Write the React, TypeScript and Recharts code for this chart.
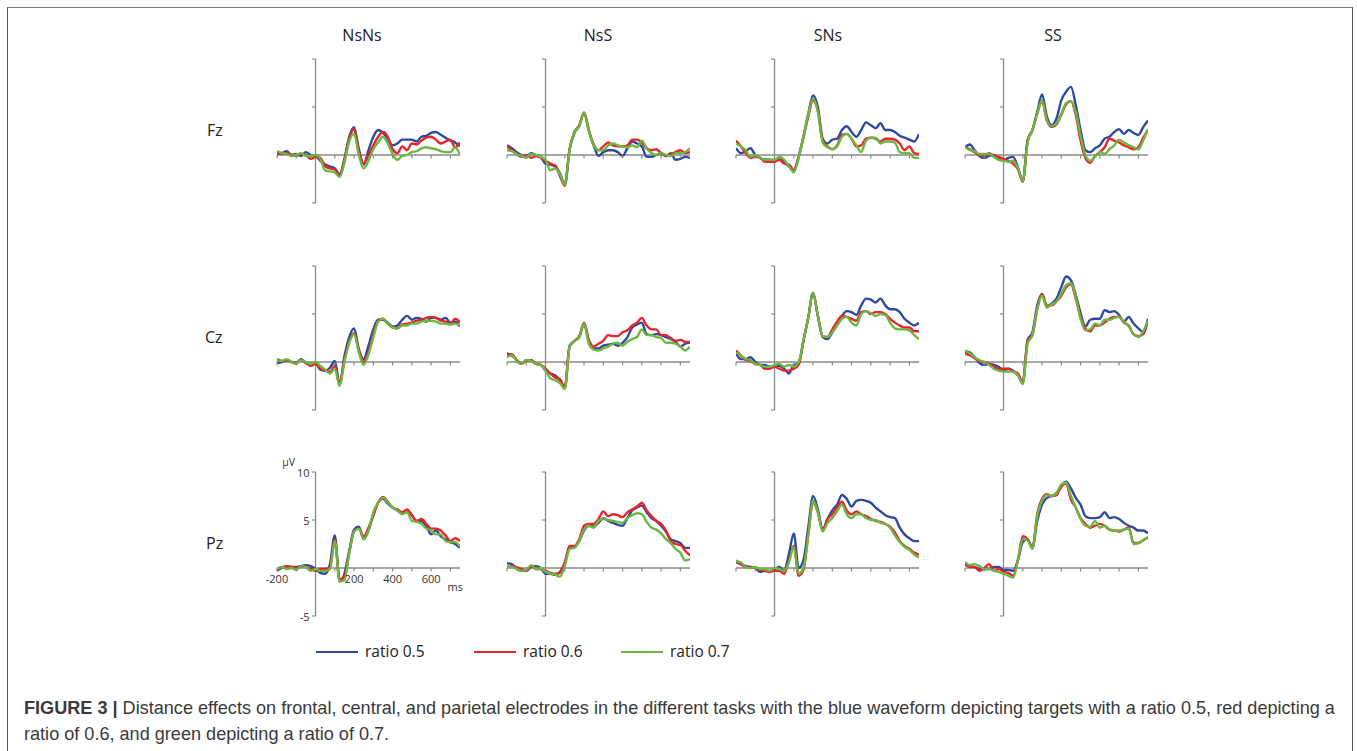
import { Line, LineChart, ReferenceDot, ReferenceLine, XAxis, YAxis } from "recharts";

// time axis (ms), one sample every 25 ms
const TIMES = [
  -200, -175, -150, -125, -100, -75, -50, -25, 0, 25, 50, 75, 100, 125, 150, 175, 200, 225, 250, 275,
  300, 325, 350, 375, 400, 425, 450, 475, 500, 525, 550, 575, 600, 625, 650, 675, 700, 725, 750,
];

const TASKS = ["NsNs", "NsS", "SNs", "SS"];
const ELECTRODES = ["Fz", "Cz", "Pz"];
const X_TICKS = [-200, -100, 100, 200, 300, 400, 500, 600, 700];
const Y_TICKS = [-5, 5, 10];
const X_TICK_LABELS = [-200, 200, 400, 600];
const Y_TICK_LABELS = [10, 5, -5];

// Fz
const fzNsNsBlue = [0.1, 0.2, 0.4, 0.0, 0.1, -0.1, 0.3, 0.0, -0.1, -0.6, -1.0, -1.2, -1.4, -2.0, -0.4, 1.9, 2.9, 0.6, -1.0, 0.5, 1.9, 2.6, 2.3, 1.7, 1.0, 1.2, 1.6, 1.6, 1.6, 1.4, 1.9, 2.0, 2.3, 2.4, 2.1, 1.8, 1.5, 1.3, 0.9];
const fzNsNsRed = [0.3, 0.1, 0.2, 0.0, -0.1, 0.1, 0.0, -0.4, -0.2, -0.3, -1.2, -1.4, -1.5, -2.2, -0.6, 1.7, 2.7, 0.4, -0.9, 0.0, 1.0, 1.9, 2.4, 1.9, 0.6, 0.2, 0.9, 0.5, 1.2, 1.1, 1.5, 1.8, 1.9, 1.6, 1.2, 1.4, 1.6, 0.8, 1.3];
const fzNsNsGreen = [0.4, 0.2, 0.1, -0.1, 0.0, 0.2, -0.1, -0.1, 0.0, -0.4, -1.6, -1.7, -1.8, -2.3, -0.8, 1.4, 2.2, 0.0, -1.4, -0.6, 0.6, 1.3, 1.9, 1.2, 0.1, -0.5, -0.1, 0.0, 0.3, 0.4, 0.7, 0.8, 0.7, 0.6, 0.4, 0.3, 0.3, 0.8, 0.0];

const fzNsSBlue = [1.0, 0.7, 0.3, 0.0, -0.2, 0.2, 0.0, -0.2, -0.9, -1.0, -1.2, -1.9, -3.1, 0.6, 2.3, 3.0, 4.4, 2.5, 1.0, -0.1, 0.3, 0.5, 0.5, 0.3, -0.1, 0.7, 1.4, 1.2, 0.9, -0.2, -0.2, 0.0, 0.2, -0.1, 0.2, -0.5, -0.4, -0.2, -0.3];
const fzNsSRed = [0.9, 0.5, 0.1, -0.2, 0.0, -0.3, -0.1, -0.3, -0.6, -0.9, -1.1, -2.2, -3.2, 0.6, 2.4, 3.1, 4.4, 2.6, 1.1, 0.5, 0.9, 1.3, 1.0, 0.9, 0.9, 1.0, 1.6, 1.6, 1.3, 0.7, 0.5, 0.6, 0.2, -0.1, 0.1, 0.3, 0.5, 0.2, 0.3];
const fzNsSGreen = [0.5, 0.4, 0.1, -0.1, -0.3, 0.1, 0.0, -0.2, -0.5, -1.6, -1.4, -2.0, -3.1, 0.6, 2.4, 3.0, 4.4, 2.5, 1.0, 0.5, 0.5, 1.0, 1.2, 1.0, 0.9, 0.8, 1.0, 0.8, 1.5, 0.7, 0.2, 0.0, 0.2, 0.0, -0.1, 0.2, 0.2, 0.3, 0.7];

const fzSNsBlue = [0.7, 0.2, 0.4, 0.7, 0.0, -0.3, -0.5, -0.5, -0.7, -0.2, -0.7, -1.2, -1.6, -0.2, 1.9, 4.3, 6.2, 5.0, 1.7, 1.2, 1.6, 1.7, 2.6, 3.0, 2.4, 1.9, 2.6, 3.4, 3.1, 2.8, 3.3, 2.6, 2.6, 2.4, 2.0, 1.8, 1.6, 1.4, 2.2];
const fzSNsRed = [1.5, 0.9, 0.2, -0.3, -0.2, -0.3, -0.7, -0.7, -0.7, -0.5, -0.9, -1.0, -1.6, -0.2, 1.8, 4.0, 5.7, 4.6, 1.5, 0.9, 0.6, 1.0, 2.1, 2.2, 1.7, 0.9, 1.0, 1.7, 1.8, 1.7, 1.4, 1.7, 1.7, 1.6, 1.2, 0.5, 0.9, 0.2, 0.1];
const fzSNsGreen = [1.2, 0.9, 0.5, -0.2, 0.0, -0.3, -0.5, -0.5, -0.5, -0.2, -0.5, -1.2, -1.8, -0.3, 1.9, 4.2, 5.9, 4.5, 1.3, 0.8, 0.6, 0.9, 1.9, 2.2, 1.7, 1.0, 0.3, 1.5, 1.8, 1.8, 1.2, 1.4, 1.4, 1.3, 0.3, 0.2, 0.2, -0.3, -0.3];

const fzSSBlue = [0.8, 1.1, 0.5, -0.1, -0.3, -0.1, 0.0, -0.3, -0.5, -0.3, -0.2, -1.3, -2.7, 1.5, 2.6, 4.5, 6.3, 4.0, 3.1, 3.8, 5.7, 6.6, 7.1, 5.2, 2.6, 0.5, 0.3, 0.7, 1.0, 1.7, 1.9, 2.4, 2.7, 2.2, 2.6, 2.3, 2.1, 2.9, 3.6];
const fzSSRed = [0.8, 0.6, 0.3, 0.0, -0.1, 0.2, -0.1, -0.2, -0.4, -0.6, -0.9, -1.5, -2.8, 1.5, 2.6, 4.3, 5.6, 3.6, 2.9, 3.2, 4.2, 5.3, 5.6, 4.2, 1.5, -0.3, -0.8, -0.1, 0.3, 0.8, 1.7, 1.5, 1.3, 1.0, 0.8, 0.6, 0.8, 1.8, 2.6];
const fzSSGreen = [0.8, 0.5, 0.4, 0.1, 0.1, 0.1, -0.2, -0.5, -0.6, -0.7, -0.6, -1.4, -2.7, 1.3, 2.6, 4.3, 5.7, 3.6, 3.0, 3.3, 4.3, 5.4, 5.6, 4.5, 2.0, 0.0, -0.6, -0.2, 0.3, 0.1, 0.6, 1.0, 1.6, 1.3, 1.0, 0.8, 0.6, 1.5, 2.7];

// Cz
const czNsNsBlue = [-0.1, 0.0, 0.2, 0.0, -0.1, 0.3, -0.1, -0.2, -0.1, -0.8, -0.9, -0.6, 0.1, -2.3, 0.6, 2.6, 3.5, 1.3, 0.3, 1.7, 3.4, 4.4, 4.4, 4.1, 3.7, 3.8, 4.4, 4.8, 4.4, 4.6, 4.5, 4.2, 4.6, 4.6, 4.4, 4.6, 4.1, 4.2, 3.7];
const czNsNsRed = [0.3, 0.1, 0.2, 0.0, -0.1, 0.2, -0.1, -0.4, -0.2, -0.7, -0.9, -1.0, -0.4, -2.3, 0.2, 2.1, 3.0, 1.3, 0.0, 1.0, 2.8, 4.3, 4.5, 4.0, 3.6, 3.5, 3.9, 4.0, 4.1, 4.3, 4.4, 4.6, 4.7, 4.6, 4.3, 4.2, 4.0, 4.5, 4.1];
const czNsNsGreen = [0.2, 0.1, 0.3, 0.0, -0.2, 0.2, 0.0, -0.2, 0.0, -0.4, -0.8, -1.2, -0.7, -2.5, 0.0, 2.0, 2.9, 1.0, -0.3, 0.8, 2.6, 4.2, 4.5, 4.0, 3.6, 3.5, 3.8, 3.8, 4.0, 4.0, 4.2, 4.3, 4.3, 4.2, 4.0, 4.0, 3.9, 4.0, 3.8];

const czNsSBlue = [0.9, 0.7, 0.2, -0.2, 0.2, 0.2, -0.2, -0.3, -0.9, -1.2, -1.4, -1.9, -2.7, 1.7, 2.2, 2.6, 4.0, 2.1, 1.4, 1.4, 1.7, 1.8, 1.9, 1.7, 2.0, 2.6, 3.6, 3.9, 4.1, 2.9, 2.8, 2.9, 2.8, 2.6, 2.4, 2.1, 1.6, 1.9, 2.0];
const czNsSRed = [0.7, 0.8, 0.2, -0.2, 0.1, 0.2, -0.2, -0.3, -0.7, -1.2, -1.6, -1.8, -2.7, 1.6, 2.2, 2.7, 4.1, 2.3, 1.6, 1.9, 2.2, 2.8, 2.7, 2.7, 3.1, 3.3, 3.8, 4.1, 4.6, 3.8, 3.4, 3.4, 2.8, 2.8, 2.5, 2.2, 2.3, 2.1, 2.1];
const czNsSGreen = [0.5, 0.7, 0.1, -0.2, 0.2, 0.1, -0.2, -0.3, -0.9, -1.7, -1.9, -2.2, -2.8, 1.6, 2.2, 2.6, 4.0, 1.9, 1.3, 1.2, 1.4, 1.6, 1.9, 2.0, 1.7, 2.1, 2.4, 2.6, 3.4, 2.8, 2.8, 2.6, 2.5, 2.0, 2.0, 1.9, 1.6, 1.2, 1.6];

const czSNsBlue = [0.9, 0.3, 0.3, 0.5, 0.0, -0.3, -0.3, -0.5, -0.5, -0.4, -0.7, -1.2, -0.3, -0.2, 2.2, 4.6, 7.2, 4.8, 2.6, 2.4, 3.1, 4.0, 4.8, 5.3, 5.2, 4.9, 5.9, 6.6, 6.5, 6.2, 6.6, 5.9, 5.5, 5.5, 5.2, 4.5, 4.1, 3.8, 4.1];
const czSNsRed = [1.2, 0.7, 0.2, 0.1, -0.2, -0.3, -0.7, -0.7, -0.5, -0.7, -0.9, -0.9, -0.7, -0.3, 2.2, 4.6, 7.2, 4.8, 2.7, 2.6, 3.4, 4.2, 4.8, 4.7, 4.5, 4.3, 5.2, 5.3, 5.0, 5.2, 5.2, 5.0, 4.5, 4.1, 3.8, 3.6, 3.6, 3.2, 3.2];
const czSNsGreen = [1.0, 0.7, 0.3, 0.2, -0.2, -0.3, -0.5, -0.5, -0.3, -0.2, -0.5, -0.3, -0.5, 0.0, 2.2, 4.6, 7.2, 4.8, 2.7, 2.6, 3.1, 3.8, 4.5, 4.7, 4.1, 3.8, 5.0, 5.3, 5.1, 4.8, 5.0, 4.9, 4.1, 3.5, 3.4, 3.4, 3.3, 2.8, 2.4];

const czSSBlue = [1.1, 1.0, 0.5, -0.1, -0.3, -0.2, -0.3, -0.5, -0.9, -0.7, -0.9, -1.4, -2.1, 2.3, 3.1, 5.9, 7.1, 5.7, 6.1, 6.6, 7.8, 8.9, 8.5, 7.0, 5.1, 3.7, 4.4, 4.5, 4.5, 5.4, 5.2, 5.3, 4.9, 4.2, 4.7, 4.0, 3.5, 3.1, 4.5];
const czSSRed = [0.9, 0.7, 0.4, 0.1, 0.0, -0.2, -0.5, -0.7, -0.7, -0.7, -1.0, -1.2, -2.2, 2.2, 2.8, 5.5, 7.1, 5.9, 5.9, 6.3, 6.9, 7.8, 8.1, 6.6, 4.7, 3.5, 3.2, 3.8, 3.8, 4.1, 4.5, 4.7, 4.7, 4.1, 3.8, 2.9, 2.7, 2.9, 4.3];
const czSSGreen = [1.2, 0.9, 0.5, 0.2, 0.0, -0.3, -0.7, -0.9, -1.0, -1.0, -1.0, -1.4, -2.3, 1.9, 2.8, 5.5, 6.9, 5.7, 6.0, 6.3, 7.1, 8.0, 8.2, 6.8, 4.5, 3.3, 3.4, 4.0, 3.8, 4.4, 4.4, 4.6, 4.7, 4.2, 3.7, 2.9, 2.6, 3.2, 4.3];

// Pz
const pzNsNsBlue = [-0.3, 0.0, 0.1, 0.1, 0.1, 0.2, 0.3, 0.2, -0.1, -0.5, -0.6, 0.4, 3.4, -1.4, -0.6, 1.8, 4.0, 4.3, 3.0, 3.9, 5.5, 6.8, 7.2, 6.7, 6.3, 6.0, 5.7, 5.9, 5.5, 4.9, 4.9, 4.4, 3.5, 3.9, 3.3, 3.0, 2.7, 2.5, 2.1];
const pzNsNsRed = [-0.1, 0.1, 0.2, 0.1, 0.0, 0.2, 0.1, -0.1, -0.3, -0.1, -0.1, 0.1, 3.0, -1.2, -0.9, 1.6, 3.8, 4.1, 3.3, 4.2, 5.5, 6.8, 7.4, 6.9, 6.3, 6.1, 5.8, 6.1, 5.5, 4.9, 5.1, 4.6, 4.1, 4.1, 3.9, 3.4, 2.8, 3.1, 2.8];
const pzNsNsGreen = [-0.1, 0.1, -0.1, 0.0, -0.2, 0.2, 0.1, -0.3, -0.1, -0.3, -0.3, -0.1, 2.8, -1.4, -1.3, 1.5, 3.8, 4.1, 3.0, 3.9, 5.8, 6.8, 7.3, 6.8, 6.3, 6.0, 5.6, 5.8, 4.9, 4.8, 4.6, 4.1, 3.9, 3.5, 3.5, 2.8, 2.7, 2.7, 2.2];

const pzNsSBlue = [0.5, 0.4, -0.1, -0.3, -0.3, 0.1, 0.2, 0.0, -0.6, -0.6, -0.7, -0.4, 0.5, 2.1, 2.2, 2.8, 3.9, 4.4, 4.3, 4.7, 5.2, 4.9, 4.7, 4.5, 4.4, 5.2, 6.0, 6.3, 6.5, 5.8, 5.2, 4.9, 4.4, 3.8, 3.0, 2.8, 2.6, 2.1, 2.1];
const pzNsSRed = [0.1, 0.2, 0.1, -0.1, -0.3, 0.2, -0.1, -0.1, -0.3, -0.5, -0.6, -0.5, 0.6, 2.3, 2.3, 3.0, 4.4, 4.6, 4.6, 5.1, 5.9, 5.4, 5.6, 5.5, 5.3, 5.8, 6.1, 6.4, 6.8, 6.0, 5.4, 4.9, 4.6, 3.9, 2.8, 2.5, 2.4, 1.8, 1.3];
const pzNsSGreen = [0.1, 0.1, -0.1, -0.3, -0.2, 0.3, -0.1, 0.0, -0.4, -0.6, -0.7, -0.9, 0.2, 2.0, 2.1, 2.8, 4.0, 4.4, 4.2, 4.9, 5.1, 5.0, 4.9, 4.8, 4.7, 5.2, 5.5, 5.7, 5.6, 4.8, 4.2, 4.0, 3.6, 3.0, 2.6, 2.0, 1.6, 0.8, 0.9];

const pzSNsBlue = [0.6, 0.4, 0.2, 0.1, 0.0, -0.4, -0.3, -0.3, -0.1, 0.1, -0.3, 1.5, 3.6, 0.0, 0.8, 4.2, 7.5, 6.1, 4.0, 5.1, 6.0, 6.6, 7.6, 7.2, 6.4, 7.0, 7.1, 7.0, 6.8, 6.3, 5.9, 5.5, 5.3, 5.2, 4.2, 3.5, 3.1, 2.8, 2.8];
const pzSNsRed = [0.8, 0.4, 0.1, 0.1, 0.0, -0.2, -0.3, -0.4, -0.3, -0.3, -0.6, 0.8, 2.3, -0.8, -0.2, 3.5, 6.8, 5.8, 3.9, 5.1, 5.6, 6.3, 6.9, 6.0, 5.6, 5.9, 5.6, 5.4, 5.1, 4.9, 4.8, 4.6, 4.3, 3.7, 2.8, 2.3, 2.0, 1.6, 1.4];
const pzSNsGreen = [0.7, 0.6, 0.1, 0.0, 0.1, -0.1, -0.1, -0.3, 0.0, -0.1, -0.3, 0.6, 2.2, -0.6, 0.0, 3.3, 7.0, 5.8, 3.8, 4.7, 5.2, 5.9, 6.6, 5.6, 5.2, 5.6, 5.6, 5.2, 5.0, 5.0, 4.7, 4.6, 4.2, 3.4, 2.7, 2.2, 1.9, 1.4, 1.1];

const pzSSBlue = [0.3, 0.2, 0.1, -0.1, -0.1, -0.1, 0.1, 0.1, -0.2, -0.2, -0.3, 0.8, 2.7, 3.0, 2.1, 4.9, 6.6, 7.3, 7.5, 7.8, 8.5, 9.0, 8.3, 7.3, 6.6, 5.4, 5.2, 5.2, 5.3, 5.8, 5.2, 5.3, 5.1, 4.7, 4.4, 4.2, 3.9, 3.9, 3.6];
const pzSSRed = [0.5, 0.1, 0.1, -0.3, 0.0, 0.4, -0.3, -0.1, -0.4, -0.5, -0.8, 0.9, 3.3, 3.0, 2.1, 5.6, 7.2, 7.7, 7.5, 7.6, 8.5, 8.8, 7.1, 6.3, 5.2, 4.6, 4.2, 4.4, 4.6, 4.4, 4.0, 3.9, 3.8, 4.0, 4.2, 2.6, 2.6, 2.9, 3.2];
const pzSSGreen = [0.6, 0.3, 0.4, 0.2, -0.1, -0.1, -0.3, -0.4, -0.6, -0.8, -1.0, 0.8, 3.0, 2.9, 2.0, 5.4, 7.0, 7.6, 7.5, 7.8, 8.7, 8.9, 7.5, 6.3, 5.1, 4.4, 4.3, 4.9, 4.2, 4.4, 4.0, 3.9, 3.9, 4.0, 4.1, 2.5, 2.6, 2.9, 3.2];

const GRID = [
  [
    [fzNsNsBlue, fzNsNsRed, fzNsNsGreen],
    [fzNsSBlue, fzNsSRed, fzNsSGreen],
    [fzSNsBlue, fzSNsRed, fzSNsGreen],
    [fzSSBlue, fzSSRed, fzSSGreen],
  ],
  [
    [czNsNsBlue, czNsNsRed, czNsNsGreen],
    [czNsSBlue, czNsSRed, czNsSGreen],
    [czSNsBlue, czSNsRed, czSNsGreen],
    [czSSBlue, czSSRed, czSSGreen],
  ],
  [
    [pzNsNsBlue, pzNsNsRed, pzNsNsGreen],
    [pzNsSBlue, pzNsSRed, pzNsSGreen],
    [pzSNsBlue, pzSNsRed, pzSNsGreen],
    [pzSSBlue, pzSSRed, pzSSGreen],
  ],
];

const BLUE = "#2e4a9e";
const RED = "#e8252a";
const GREEN = "#6cb741";
const AXIS = "#8a8a8a";
const FONT = "'Open Sans', sans-serif";

const COL_X = [277, 506.5, 736, 965];
const ROW_Y = [59, 265.5, 471.5];
const PLOT_W = 183;
const PLOT_H = 144;
const M = 24;

const tickText = (txt: string, dx: number, dy: number, anchor: string, size = 11) => (p: any) => (
  <text x={p.cx + dx} y={p.cy + dy} textAnchor={anchor} fontSize={size} fill="#333" fontFamily={FONT}>
    {txt}
  </text>
);

const Panel = ({ row, col }: { row: number; col: number }) => {
  const [blue, red, green] = GRID[row][col];
  const data = TIMES.map((t, i) => ({ t, b: blue[i], r: red[i], g: green[i] }));
  const labelled = row === 2 && col === 0;

  return (
    <div style={{ position: "absolute", left: COL_X[col] - M, top: ROW_Y[row] - M }}>
      <LineChart
        width={PLOT_W + 2 * M}
        height={PLOT_H + 2 * M}
        data={data}
        margin={{ top: M, right: M, bottom: M, left: M }}
      >
        <XAxis type="number" dataKey="t" domain={[-200, 750]} hide allowDataOverflow />
        <YAxis type="number" domain={[-5, 10]} hide allowDataOverflow />
        <ReferenceLine y={0} stroke={AXIS} strokeWidth={1.3} />
        <ReferenceLine
          segment={[
            { x: 0, y: -5 },
            { x: 0, y: 10 },
          ]}
          stroke={AXIS}
          strokeWidth={1.3}
        />
        {X_TICKS.map((t) => (
          <ReferenceDot
            key={`xt${t}`}
            x={t}
            y={0}
            r={0}
            ifOverflow="visible"
            shape={(p: any) => (
              <line x1={p.cx} x2={p.cx} y1={p.cy} y2={p.cy + 3.5} stroke={AXIS} strokeWidth={1.2} />
            )}
          />
        ))}
        {Y_TICKS.map((v) => (
          <ReferenceDot
            key={`yt${v}`}
            x={0}
            y={v}
            r={0}
            ifOverflow="visible"
            shape={(p: any) => (
              <line x1={p.cx - 3.5} x2={p.cx} y1={p.cy} y2={p.cy} stroke={AXIS} strokeWidth={1.2} />
            )}
          />
        ))}
        {labelled &&
          X_TICK_LABELS.map((t) => (
            <ReferenceDot
              key={`xl${t}`}
              x={t}
              y={0}
              r={0}
              ifOverflow="visible"
              shape={tickText(String(t), 0, 15, "middle")}
            />
          ))}
        {labelled &&
          Y_TICK_LABELS.map((v) => (
            <ReferenceDot
              key={`yl${v}`}
              x={0}
              y={v}
              r={0}
              ifOverflow="visible"
              shape={tickText(String(v), -6, 4.5, "end")}
            />
          ))}
        {labelled && (
          <ReferenceDot
            x={0}
            y={10}
            r={0}
            ifOverflow="visible"
            shape={tickText("µV", -27, -6, "middle", 10.5)}
          />
        )}
        {labelled && (
          <ReferenceDot x={725} y={0} r={0} ifOverflow="visible" shape={tickText("ms", 0, 23, "middle")} />
        )}
        <Line type="monotone" dataKey="b" stroke={BLUE} strokeWidth={2.4} dot={false} isAnimationActive={false} />
        <Line type="monotone" dataKey="r" stroke={RED} strokeWidth={2.4} dot={false} isAnimationActive={false} />
        <Line type="monotone" dataKey="g" stroke={GREEN} strokeWidth={2.4} dot={false} isAnimationActive={false} />
      </LineChart>
    </div>
  );
};

const TITLE_X = [362, 598, 828, 1053];
const ROW_LABEL = [
  { left: 207, top: 120 },
  { left: 205, top: 327 },
  { left: 206, top: 533 },
];
const LEGEND = [
  { label: "ratio 0.5", color: BLUE, left: 316 },
  { label: "ratio 0.6", color: RED, left: 474 },
  { label: "ratio 0.7", color: GREEN, left: 621 },
];

export default function App() {
  return (
    <div
      style={{
        position: "absolute",
        left: 0,
        top: 0,
        width: 1357,
        height: 751,
        overflow: "hidden",
        background: "#fff",
        fontFamily: FONT,
      }}
    >
      <div
        style={{
          position: "absolute",
          left: 7,
          top: 7,
          width: 1346,
          height: 744,
          borderTop: "1px solid #7a7a7a",
          borderLeft: "1px solid #555",
          borderRight: "1px solid #555",
          boxSizing: "border-box",
        }}
      />
      {TASKS.map((t, i) => (
        <div
          key={t}
          style={{
            position: "absolute",
            left: TITLE_X[i] - 60,
            width: 120,
            top: 25,
            textAlign: "center",
            fontSize: 16,
            lineHeight: "20px",
            color: "#222",
          }}
        >
          {t}
        </div>
      ))}
      {ELECTRODES.map((e, i) => (
        <div
          key={e}
          style={{
            position: "absolute",
            left: ROW_LABEL[i].left,
            top: ROW_LABEL[i].top,
            fontSize: 16,
            lineHeight: "20px",
            color: "#222",
          }}
        >
          {e}
        </div>
      ))}
      {ELECTRODES.map((_, r) => TASKS.map((__, c) => <Panel key={`${r}-${c}`} row={r} col={c} />))}
      {LEGEND.map((l) => (
        <div key={l.label}>
          <div
            style={{
              position: "absolute",
              left: l.left,
              top: 650.5,
              width: 42,
              height: 2.5,
              background: l.color,
            }}
          />
          <div
            style={{
              position: "absolute",
              left: l.left + 49,
              top: 641,
              fontSize: 15.5,
              lineHeight: "20px",
              color: "#222",
              whiteSpace: "nowrap",
            }}
          >
            {l.label}
          </div>
        </div>
      ))}
      <div
        style={{
          position: "absolute",
          left: 24,
          top: 695,
          fontFamily: "'Liberation Sans', Arial, sans-serif",
          fontSize: 18.1,
          lineHeight: "26px",
          color: "#3a3a3a",
          whiteSpace: "nowrap",
        }}
      >
        <div>
          <b>FIGURE 3 |</b> Distance effects on frontal, central, and parietal electrodes in the different tasks
          with the blue waveform depicting targets with a ratio 0.5, red depicting a
        </div>
        <div>ratio of 0.6, and green depicting a ratio of 0.7.</div>
      </div>
    </div>
  );
}
